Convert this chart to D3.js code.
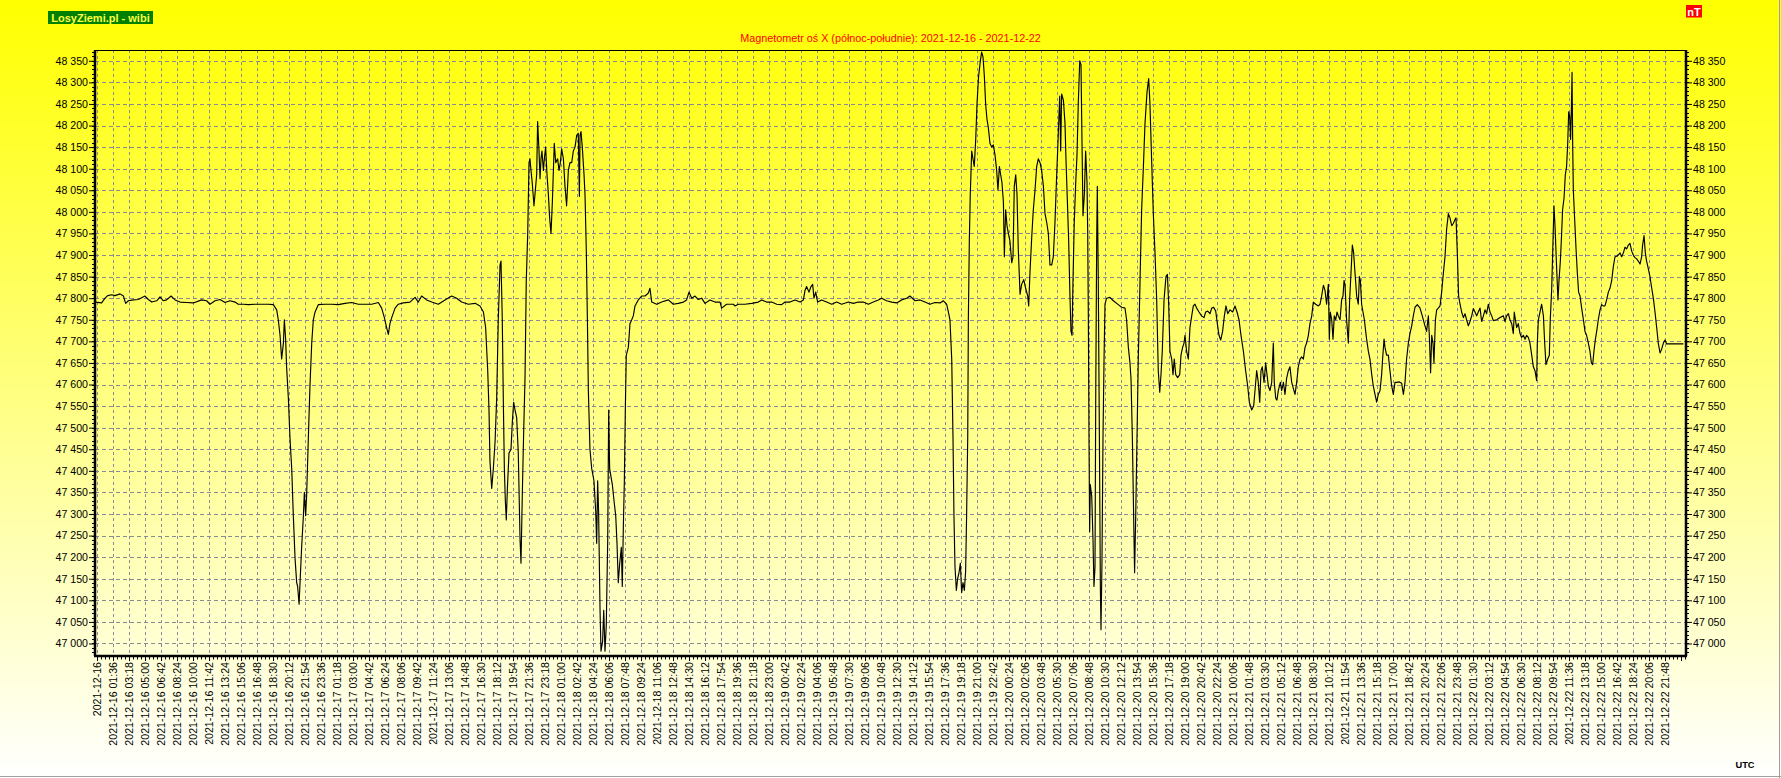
<!DOCTYPE html>
<html><head><meta charset="utf-8">
<script src="https://cdn.jsdelivr.net/npm/d3@7"></script>
<style>html,body{margin:0;padding:0;overflow:hidden;background:#fff}text{font-family:"Liberation Sans",Arial,sans-serif}</style>
</head><body>
<svg id="c" width="1781" height="778"></svg>
<script>
// ---------- DATA ----------
const chartTitle = "Magnetometr oś X (północ-południe): 2021-12-16 - 2021-12-22";
const brand = "LosyZiemi.pl - wibi";
const unit = "nT";
const tzLabel = "UTC";

const xLabels = ["2021-12-16",
"2021-12-16 01:36","2021-12-16 03:18","2021-12-16 05:00","2021-12-16 06:42","2021-12-16 08:24","2021-12-16 10:00","2021-12-16 11:42","2021-12-16 13:24","2021-12-16 15:06","2021-12-16 16:48","2021-12-16 18:30","2021-12-16 20:12","2021-12-16 21:54","2021-12-16 23:36",
"2021-12-17 01:18","2021-12-17 03:00","2021-12-17 04:42","2021-12-17 06:24","2021-12-17 08:06","2021-12-17 09:42","2021-12-17 11:24","2021-12-17 13:06","2021-12-17 14:48","2021-12-17 16:30","2021-12-17 18:12","2021-12-17 19:54","2021-12-17 21:36","2021-12-17 23:18",
"2021-12-18 01:00","2021-12-18 02:42","2021-12-18 04:24","2021-12-18 06:06","2021-12-18 07:48","2021-12-18 09:24","2021-12-18 11:06","2021-12-18 12:48","2021-12-18 14:30","2021-12-18 16:12","2021-12-18 17:54","2021-12-18 19:36","2021-12-18 21:18","2021-12-18 23:00",
"2021-12-19 00:42","2021-12-19 02:24","2021-12-19 04:06","2021-12-19 05:48","2021-12-19 07:30","2021-12-19 09:06","2021-12-19 10:48","2021-12-19 12:30","2021-12-19 14:12","2021-12-19 15:54","2021-12-19 17:36","2021-12-19 19:18","2021-12-19 21:00","2021-12-19 22:42",
"2021-12-20 00:24","2021-12-20 02:06","2021-12-20 03:48","2021-12-20 05:30","2021-12-20 07:06","2021-12-20 08:48","2021-12-20 10:30","2021-12-20 12:12","2021-12-20 13:54","2021-12-20 15:36","2021-12-20 17:18","2021-12-20 19:00","2021-12-20 20:42","2021-12-20 22:24",
"2021-12-21 00:06","2021-12-21 01:48","2021-12-21 03:30","2021-12-21 05:12","2021-12-21 06:48","2021-12-21 08:30","2021-12-21 10:12","2021-12-21 11:54","2021-12-21 13:36","2021-12-21 15:18","2021-12-21 17:00","2021-12-21 18:42","2021-12-21 20:24","2021-12-21 22:06","2021-12-21 23:48",
"2021-12-22 01:30","2021-12-22 03:12","2021-12-22 04:54","2021-12-22 06:30","2021-12-22 08:12","2021-12-22 09:54","2021-12-22 11:36","2021-12-22 13:18","2021-12-22 15:00","2021-12-22 16:42","2021-12-22 18:24","2021-12-22 20:06","2021-12-22 21:48"];

const yTickValues = [47000,47050,47100,47150,47200,47250,47300,47350,47400,47450,47500,47550,47600,47650,47700,47750,47800,47850,47900,47950,48000,48050,48100,48150,48200,48250,48300,48350];

// sample position, in units of x-label steps (label i sits at position i)
const samplePos = [
-0.12,0.29,0.5,0.67,0.92,1.12,1.44,1.65,1.79,1.96,2.27,2.58,3.0,3.21,3.42,3.73,3.94,4.15,4.35,4.63,4.88,5.19,5.6,6.02,6.54,6.85,7.06,7.38,7.69,8.0,8.31,8.63,8.83,9.15,9.46,9.88,10.29,10.71,11.02,11.23,11.33,11.44,11.54,11.65,11.71,11.79,11.85,11.96,12.06,12.17,12.27,12.38,12.48,12.54,12.63,12.69,12.79,12.9,12.96,13.04,13.1,13.21,13.31,13.42,13.52,13.63,13.83,14.25,14.67,15.08,15.5,15.92,16.33,16.75,17.17,17.58,17.79,17.96,18.1,18.21,18.31,18.42,18.63,18.83,19.15,19.56,19.88,
20.08,20.29,20.6,20.92,21.33,21.75,22.17,22.48,22.79,23.21,23.63,23.94,24.15,24.29,24.42,24.5,24.56,24.67,24.77,24.88,24.98,25.08,25.19,25.25,25.33,25.4,25.46,25.52,25.58,25.65,25.75,25.875,25.96,26.04,26.125,26.23,26.33,26.44,26.5,26.58,26.67,26.75,26.83,26.92,27.0,27.06,27.125,27.21,27.31,27.375,27.48,27.54,27.625,27.69,27.75,27.81,27.9,27.96,28.04,28.125,28.21,28.29,28.375,28.46,28.54,28.58,28.67,28.79,28.875,28.96,29.04,29.15,29.25,29.35,29.46,29.56,29.67,29.77,29.875,29.98,30.08,30.15,30.19,30.25,30.33,30.44,30.5,30.58,30.65,30.71,30.81,30.92,31.06,31.17,31.23,31.29,31.35,31.44,31.5,31.6,31.67,31.75,31.83,31.92,31.98,32.04,32.125,32.21,32.31,32.42,32.5,32.58,32.67,32.77,32.83,32.9,32.96,33.02,33.08,33.21,33.31,33.42,33.52,33.625,33.83,34.04,34.25,34.46,34.56,34.67,34.98,35.29,35.71,36.02,36.33,36.65,36.85,37.0,37.17,37.375,37.58,37.79,38.0,38.31,38.625,38.94,39.04,39.35,39.77,
39.875,40.08,40.5,40.92,41.33,41.54,41.85,42.17,42.48,42.79,43.0,43.31,43.625,43.94,44.15,44.25,44.35,44.5,44.625,44.73,44.81,44.92,45.04,45.29,45.6,45.92,46.23,46.54,46.96,47.27,47.58,47.9,48.21,48.52,48.83,49.04,49.35,49.67,49.98,50.29,50.6,50.81,51.125,51.44,51.75,52.06,52.375,52.69,52.9,53.1,53.21,53.31,53.42,53.5,53.56,53.625,53.71,53.79,53.875,53.96,54.04,54.125,54.21,54.29,54.35,54.42,54.46,54.52,54.58,54.67,54.75,54.83,54.92,55.0,55.1,55.21,55.29,55.375,55.46,55.54,55.625,55.71,55.81,55.92,56.02,56.125,56.23,56.31,56.4,56.48,56.56,56.65,56.71,56.79,56.875,56.96,57.06,57.17,57.25,57.33,57.42,57.5,57.58,57.69,57.79,57.92,58.04,58.17,58.23,58.31,58.42,58.52,58.625,58.73,58.83,58.94,59.04,59.15,59.25,59.35,59.46,59.56,59.67,59.77,59.875,
59.98,60.04,60.17,60.23,60.29,60.4,60.5,60.56,60.65,60.73,60.81,60.875,60.94,61.0,61.08,61.17,61.25,61.33,61.42,61.5,61.54,61.58,61.625,61.71,61.79,61.875,61.92,61.96,62.0,62.04,62.08,62.17,62.25,62.31,62.375,62.42,62.48,62.52,62.58,62.65,62.71,62.75,62.81,62.875,62.94,63.0,63.1,63.31,63.52,63.83,64.04,64.25,64.35,64.46,64.56,64.625,64.71,64.79,64.85,64.92,65.0,65.08,65.19,65.29,65.4,65.5,65.625,65.73,65.81,65.92,66.02,66.125,66.23,66.33,66.42,66.5,66.58,66.69,66.81,66.9,66.98,67.06,67.17,67.25,67.33,67.42,67.54,67.67,67.75,67.85,67.94,68.0,68.1,68.21,68.31,68.42,68.52,68.625,68.73,68.875,69.04,69.19,69.29,69.42,69.56,69.67,69.79,69.92,70.02,70.125,70.23,70.35,70.46,70.56,70.67,70.81,70.98,71.125,71.25,71.375,71.5,71.65,71.79,71.92,72.02,72.17,72.29,72.375,72.48,72.58,72.67,72.75,72.83,72.94,73.04,73.125,73.21,73.31,73.42,73.52,73.58,73.67,73.75,73.83,73.96,74.04,74.15,74.25,74.35,74.46,74.56,74.67,74.77,74.875,74.98,75.08,75.19,75.29,75.4,75.5,75.6,75.71,75.81,75.92,76.02,76.17,76.33,76.44,76.54,76.65,76.75,76.85,76.96,77.02,77.08,77.17,77.25,77.33,77.42,77.5,77.58,77.69,77.79,77.875,77.94,78.0,78.1,78.21,78.29,78.375,78.46,78.54,78.625,78.73,78.83,78.9,78.96,79.04,79.21,79.35,79.46,79.56,79.67,79.77,79.875,79.98,80.08,80.19,
80.29,80.35,80.44,80.5,80.6,80.71,80.81,80.92,81.02,81.125,81.23,81.4,81.54,81.65,81.75,81.85,81.96,82.06,82.17,82.27,82.375,82.52,82.69,82.83,82.96,83.1,83.21,83.27,83.35,83.42,83.5,83.56,83.65,83.73,83.83,83.94,84.04,84.15,84.25,84.35,84.46,84.56,84.67,84.77,84.875,84.94,85.02,85.1,85.19,85.29,85.4,85.5,85.6,85.71,85.81,85.92,86.02,86.125,86.23,86.33,86.44,86.54,86.65,86.75,86.85,86.96,87.06,87.17,87.27,87.48,87.69,87.9,88.0,88.1,88.21,88.31,88.42,88.52,88.58,88.65,88.73,88.83,88.94,89.04,89.15,89.25,89.35,89.46,89.56,89.67,89.77,89.875,89.98,90.02,90.085,90.19,90.29,90.4,90.48,90.56,90.67,90.77,90.83,90.92,91.0,91.06,91.125,91.19,91.25,91.31,91.375,91.46,91.54,91.6,91.69,91.77,91.85,91.92,91.98,92.04,92.1,92.15,92.19,92.23,92.27,92.35,92.44,92.52,92.6,92.69,92.79,92.9,93.0,93.1,93.21,93.31,93.4,93.48,93.56,93.65,93.73,93.83,93.94,94.04,94.15,94.25,94.35,94.46,94.56,94.67,94.77,94.875,94.98,95.08,95.19,95.29,95.4,95.5,95.6,95.71,95.81,95.92,96.02,96.125,96.23,96.33,96.44,96.54,96.6,96.69,96.77,96.85,96.96,97.06,97.17,97.27,97.375,97.48,97.58,97.69,97.79,97.9,98.0,98.1,99.15];

const fieldNT = [
47791,47789,47800,47806,47808,47806,47810,47805,47788,47794,47796,47797,47805,47797,47791,47794,47803,47794,47796,47805,47796,47791,47790,47789,47796,47794,47786,47794,47797,47790,47794,47791,47786,47786,47785,47786,47786,47786,47785,47773,47750,47714,47659,47696,47750,47705,47641,47568,47477,47405,47296,47196,47141,47132,47091,47141,47223,47296,47350,47296,47341,47477,47596,47696,47750,47768,47785,47786,47786,47785,47788,47790,47786,47786,47786,47790,47777,47755,47732,47716,47741,47755,47777,47786,47789,47791,47802,
47791,47805,47796,47791,47786,47796,47805,47800,47791,47786,47788,47782,47768,47732,47632,47541,47423,47359,47405,47468,47568,47750,47877,47886,47750,47550,47405,47332,47286,47359,47441,47450,47514,47559,47541,47523,47441,47241,47186,47341,47496,47614,47841,47950,48114,48123,48096,48064,48014,48041,48086,48209,48141,48077,48123,48141,48096,48123,48150,48086,48041,47986,47950,48023,48114,48159,48114,48123,48096,48114,48146,48123,48059,48014,48096,48114,48114,48141,48150,48177,48182,48036,48177,48186,48150,48086,48041,47914,47750,47586,47450,47405,47377,47305,47232,47377,47305,47077,46982,47005,47077,46982,47041,47241,47541,47405,47386,47368,47332,47296,47232,47141,47186,47223,47132,47277,47377,47541,47668,47686,47741,47750,47759,47782,47796,47805,47805,47812,47823,47791,47786,47791,47796,47786,47788,47791,47796,47814,47800,47805,47797,47800,47788,47796,47791,47791,47777,47786,47786,
47782,47786,47786,47788,47791,47796,47791,47791,47786,47785,47791,47791,47796,47791,47796,47818,47827,47814,47827,47832,47800,47814,47791,47796,47791,47786,47791,47786,47791,47788,47791,47791,47786,47791,47796,47800,47794,47791,47789,47796,47800,47805,47794,47796,47791,47786,47790,47789,47794,47786,47768,47750,47659,47477,47296,47177,47123,47150,47164,47186,47118,47141,47123,47168,47296,47477,47750,47932,48041,48141,48123,48105,48168,48250,48314,48350,48370,48359,48314,48250,48214,48195,48159,48150,48155,48132,48096,48050,48105,48086,48068,48023,47896,48005,47968,47950,47932,47882,47896,48059,48086,48041,47914,47809,47832,47843,47823,47805,47782,47859,47941,48005,48050,48105,48123,48114,48096,48059,47996,47977,47950,47877,47877,47896,47977,
48086,48141,48268,48141,48273,48259,48205,48123,48023,47932,47805,47723,47714,47841,47977,48068,48132,48250,48350,48341,48223,48114,47991,48041,48141,48068,47950,47750,47477,47259,47368,47341,47241,47132,47177,47568,47932,48059,47841,47477,47132,47032,47186,47477,47659,47786,47800,47802,47794,47785,47779,47777,47750,47686,47650,47614,47477,47296,47164,47296,47477,47659,47841,48005,48105,48205,48277,48309,48250,48114,47996,47905,47796,47632,47582,47623,47677,47796,47850,47855,47786,47677,47659,47623,47659,47623,47616,47623,47668,47686,47696,47714,47677,47659,47732,47759,47782,47786,47777,47768,47759,47755,47768,47770,47764,47777,47779,47770,47741,47714,47703,47723,47759,47782,47764,47773,47768,47782,47768,47750,47714,47677,47632,47596,47559,47541,47550,47586,47632,47605,47559,47632,47641,47605,47650,47623,47596,47586,47605,47696,47605,47568,47564,47586,47605,47586,47605,47577,47614,47632,47641,47605,47591,47577,47605,47641,47659,47664,47659,47686,47696,47714,47741,47759,47791,47786,47782,47786,47805,47830,47818,47786,47832,47705,47768,47750,47705,47759,47750,47768,47759,47750,47796,47805,47841,47832,47750,47696,47796,47859,47923,47905,47859,47805,47786,47850,47841,47786,47750,47705,47677,47659,47623,47596,47577,47559,47577,47586,
47623,47659,47705,47686,47668,47668,47632,47596,47577,47605,47605,47606,47603,47577,47605,47659,47696,47718,47736,47759,47779,47785,47777,47759,47741,47723,47759,47714,47627,47714,47696,47650,47750,47773,47777,47782,47814,47859,47896,47959,47996,47986,47968,47973,47982,47986,47905,47805,47786,47768,47755,47764,47750,47736,47746,47759,47776,47768,47759,47768,47777,47746,47759,47773,47764,47786,47768,47759,47748,47750,47755,47759,47746,47759,47764,47750,47741,47718,47768,47750,47732,47741,47718,47709,47714,47705,47714,47709,47696,47668,47641,47632,47609,47696,47750,47768,47786,47759,47696,47646,47659,47668,47750,47823,47932,48014,47968,47905,47850,47796,47841,47886,47950,48005,48032,48086,48105,48159,48232,48223,48168,48241,48323,48159,48050,47986,47914,47859,47814,47805,47777,47750,47723,47714,47696,47677,47650,47646,47677,47705,47723,47750,47773,47785,47782,47782,47796,47814,47823,47841,47873,47896,47897,47900,47905,47896,47905,47918,47914,47923,47927,47909,47900,47894,47891,47886,47879,47896,47923,47945,47905,47886,47868,47850,47823,47800,47768,47732,47696,47673,47682,47696,47703,47694,47694];

// ---------- DRAW ----------
const W = 1781, H = 778;
const plot = {left: 95, right: 1686, top: 50, bottom: 656};
const svg = d3.select("#c");
const defs = svg.append("defs");
const grad = defs.append("linearGradient").attr("id","bg").attr("x1",0).attr("y1",0).attr("x2",0).attr("y2",1);
grad.append("stop").attr("offset","0%").attr("stop-color","#ffff00");
grad.append("stop").attr("offset","100%").attr("stop-color","#ffffff");
svg.append("rect").attr("width",W).attr("height",H).attr("fill","url(#bg)");
// sunken frame edges
svg.append("line").attr("x1",0).attr("x2",W).attr("y1",H-1.5).attr("y2",H-1.5).attr("stroke","#a0a0a0");
svg.append("line").attr("x1",W-1.5).attr("x2",W-1.5).attr("y1",0).attr("y2",H).attr("stroke","#a0a0a0");

const x = d3.scaleLinear().domain([-0.125, 99.3125]).range([plot.left, plot.right]);
const y = d3.scaleLinear().domain([46971, 48375]).range([plot.bottom, plot.top]);
const loc = d3.formatLocale({decimal: ",", thousands: " ", grouping: [3], currency: ["", ""]});
const fmt = loc.format(",d");

const gridColor = "#8a8a94";
// horizontal grid
svg.append("g").selectAll("line").data(yTickValues).join("line")
  .attr("x1", plot.left).attr("x2", plot.right)
  .attr("y1", d => Math.round(y(d)) + 0.5).attr("y2", d => Math.round(y(d)) + 0.5)
  .attr("stroke", gridColor).attr("stroke-dasharray", "4,3");
// vertical grid
svg.append("g").selectAll("line").data(xLabels.map((d,i)=>i)).join("line")
  .attr("x1", d => Math.round(x(d)) + 0.5).attr("x2", d => Math.round(x(d)) + 0.5)
  .attr("y1", plot.top).attr("y2", plot.bottom)
  .attr("stroke", gridColor).attr("stroke-dasharray", "3,3");

// data line
const pts = samplePos.map((p,i)=>[p, fieldNT[i]]);
svg.append("path").datum(pts)
  .attr("d", d3.line().x(d=>x(d[0])).y(d=>y(d[1])))
  .attr("fill","none").attr("stroke","#000").attr("stroke-width",1.15).attr("stroke-linejoin","round");

// frame
svg.append("line").attr("x1",plot.left).attr("x2",plot.right).attr("y1",plot.top+0.5).attr("y2",plot.top+0.5).attr("stroke","#000");
svg.append("line").attr("x1",plot.left-1).attr("x2",plot.right+1).attr("y1",plot.bottom).attr("y2",plot.bottom).attr("stroke","#000").attr("stroke-width",2.5);
svg.append("line").attr("x1",plot.left).attr("x2",plot.left).attr("y1",plot.top).attr("y2",plot.bottom).attr("stroke","#000").attr("stroke-width",2.5);
svg.append("line").attr("x1",plot.right).attr("x2",plot.right).attr("y1",plot.top).attr("y2",plot.bottom).attr("stroke","#000").attr("stroke-width",2.5);

// y axes via d3 axis (major ticks), then minor ticks
const minorY = d3.range(46980, 48375, 10);
const axL = svg.append("g").attr("transform",`translate(${plot.left-1},0)`)
  .call(d3.axisLeft(y).tickValues(yTickValues).tickFormat(fmt).tickSize(5).tickPadding(1));
const axR = svg.append("g").attr("transform",`translate(${plot.right+1},0)`)
  .call(d3.axisRight(y).tickValues(yTickValues).tickFormat(fmt).tickSize(5).tickPadding(1));
[axL, axR].forEach(g => {
  g.select(".domain").remove();
  g.selectAll("text").attr("font-size","10.6px").attr("font-family",'"Liberation Sans",Arial,sans-serif').attr("fill","#000");
  g.selectAll("line").attr("stroke","#000");
});
svg.append("g").selectAll("line").data(minorY).join("line")
  .attr("x1", plot.left-3).attr("x2", plot.left-1)
  .attr("y1", d=>Math.round(y(d))+0.5).attr("y2", d=>Math.round(y(d))+0.5).attr("stroke","#000");
svg.append("g").selectAll("line").data(minorY).join("line")
  .attr("x1", plot.right+1).attr("x2", plot.right+3)
  .attr("y1", d=>Math.round(y(d))+0.5).attr("y2", d=>Math.round(y(d))+0.5).attr("stroke","#000");

// x axis
const minorX = d3.range(0, 99.3, 0.25);
svg.append("g").selectAll("line").data(minorX).join("line")
  .attr("x1", d=>Math.round(x(d))+0.5).attr("x2", d=>Math.round(x(d))+0.5)
  .attr("y1", plot.bottom+1).attr("y2", d => plot.bottom + (Number.isInteger(d) ? 5 : 3.5)).attr("stroke","#000");
svg.append("g").selectAll("text").data(xLabels).join("text")
  .attr("transform", (d,i) => `translate(${x(i)+0.5},${plot.bottom+6}) rotate(-90)`)
  .attr("text-anchor","end").attr("dy","0.36em")
  .attr("font-size","10.6px").attr("fill","#000").text(d=>d);

// headers
svg.append("text").attr("x",(plot.left+plot.right)/2).attr("y",41.5).attr("text-anchor","middle")
  .attr("font-size","10.8px").attr("fill","#ff0000").text(chartTitle);
svg.append("rect").attr("x",48).attr("y",11).attr("width",105).attr("height",13).attr("fill","#008000");
svg.append("text").attr("x",100.5).attr("y",21.5).attr("text-anchor","middle").attr("font-size","11px")
  .attr("font-weight","bold").attr("fill","#ffff40").text(brand);
svg.append("rect").attr("x",1686).attr("y",5).attr("width",16).attr("height",12.5).attr("fill","#ff0000");
svg.append("text").attr("x",1694).attr("y",15.5).attr("text-anchor","middle").attr("font-size","11px")
  .attr("font-weight","bold").attr("fill","#ffffff").text(unit);
svg.append("text").attr("x",1745).attr("y",768).attr("text-anchor","middle").attr("font-size","9.3px")
  .attr("font-weight","bold").attr("fill","#000").text(tzLabel);
</script>
</body></html>
